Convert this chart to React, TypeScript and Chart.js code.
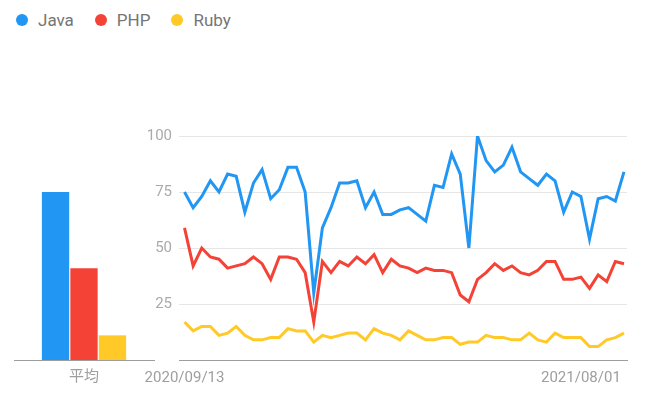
import React, { useEffect, useRef } from 'react';
import { Chart, registerables } from 'chart.js';

Chart.register(...registerables);

const seriesNames = ['Java', 'PHP', 'Ruby'];
const seriesColors = ['#2196F3', '#F44336', '#FFCA28'];

const java = [75, 68, 73, 80, 75, 83, 82, 66, 79, 85, 72, 76, 86, 86, 75, 30, 59, 68, 79, 79, 80, 68, 75, 65, 65, 67, 68, 65, 62, 78, 77, 92, 83, 50, 100, 89, 84, 87, 95, 84, 81, 78, 83, 80, 66, 75, 73, 54, 72, 73, 71, 84];
const php = [59, 42, 50, 46, 45, 41, 42, 43, 46, 43, 36, 46, 46, 45, 39, 17, 44, 39, 44, 42, 46, 43, 47, 39, 45, 42, 41, 39, 41, 40, 40, 39, 29, 26, 36, 39, 43, 40, 42, 39, 38, 40, 44, 44, 36, 36, 37, 32, 38, 35, 44, 43];
const ruby = [17, 13, 15, 15, 11, 12, 15, 11, 9, 9, 10, 10, 14, 13, 13, 8, 11, 10, 11, 12, 12, 9, 14, 12, 11, 9, 13, 11, 9, 9, 10, 10, 7, 8, 8, 11, 10, 10, 9, 9, 12, 9, 8, 12, 10, 10, 10, 6, 6, 9, 10, 12];
const seriesValues = [java, php, ruby];

const averageLabel = '平均';
const averages = [75, 41, 11];

const xTickIndices = [0, 46];
const xTickLabels = ['2020/09/13', '2021/08/01'];
const yTickValues = [0, 25, 50, 75, 100];

const FONT = 'Roboto, "Noto Sans CJK JP", sans-serif';
const AXIS_COLOR = '#9e9e9e';
const LABEL_COLOR = '#9e9e9e';
const YLABEL_COLOR = '#aaaaaa';
const GRID_COLOR = '#e6e6e6';

export default function App() {
  const barRef = useRef<HTMLCanvasElement | null>(null);
  const lineRef = useRef<HTMLCanvasElement | null>(null);

  useEffect(() => {
    const bar = new Chart(barRef.current as HTMLCanvasElement, {
      type: 'bar',
      data: {
        labels: [averageLabel],
        datasets: seriesNames.map((name, i) => ({
          label: name,
          data: [averages[i]],
          backgroundColor: seriesColors[i],
          borderWidth: 0,
          categoryPercentage: 0.61,
          barPercentage: 0.96,
        })),
      },
      options: {
        responsive: false,
        animation: false,
        layout: { padding: { left: 14, right: 11, top: 136, bottom: 6 } },
        plugins: { legend: { display: false }, tooltip: { enabled: false } },
        scales: {
          x: {
            grid: { display: false },
            border: { display: true, color: AXIS_COLOR, width: 1 },
            ticks: { color: LABEL_COLOR, font: { family: FONT, size: 15 }, padding: 0 },
            afterFit: (s: any) => { s.height = 30; },
          },
          y: { display: false, min: 0, max: 100 },
        },
      },
    });

    const line = new Chart(lineRef.current as HTMLCanvasElement, {
      type: 'line',
      data: {
        datasets: seriesNames.map((name, i) => ({
          label: name,
          data: seriesValues[i].map((v, j) => ({ x: j, y: v })),
          borderColor: seriesColors[i],
          backgroundColor: seriesColors[i],
          borderWidth: 3,
          pointRadius: 0,
          tension: 0,
          fill: false,
        })),
      },
      options: {
        responsive: false,
        animation: false,
        layout: { padding: { left: 0, right: 29, top: 136, bottom: 6 } },
        plugins: { legend: { display: false }, tooltip: { enabled: false } },
        scales: {
          x: {
            type: 'linear',
            min: -0.64,
            max: 51.35,
            grid: { display: false },
            border: { display: true, color: AXIS_COLOR, width: 1 },
            afterBuildTicks: (s: any) => { s.ticks = xTickIndices.map((v) => ({ value: v })); },
            ticks: {
              autoSkip: false,
              maxRotation: 0,
              color: LABEL_COLOR,
              font: { family: FONT, size: 15 },
              padding: 1,
              callback: (v: any) => {
                const k = xTickIndices.indexOf(Number(v));
                return k >= 0 ? xTickLabels[k] : '';
              },
            },
            afterFit: (s: any) => { s.height = 30; },
          },
          y: {
            min: 0,
            max: 100,
            afterBuildTicks: (s: any) => { s.ticks = yTickValues.map((v) => ({ value: v })); },
            grid: {
              drawTicks: false,
              color: (ctx: any) => (ctx.tick && ctx.tick.value === 0 ? 'rgba(0,0,0,0)' : GRID_COLOR),
            },
            border: { display: false },
            ticks: {
              padding: 7,
              color: YLABEL_COLOR,
              font: { family: FONT, size: 15 },
              callback: (v: any) => (Number(v) === 0 ? '' : String(v)),
            },
            afterFit: (s: any) => { s.width = 49; },
          },
        },
      },
    });

    return () => {
      bar.destroy();
      line.destroy();
    };
  }, []);

  return (
    <div style={{ position: 'fixed', left: 0, top: 0, width: 656, height: 396, background: '#ffffff', overflow: 'hidden' }}>
      <div
        style={{
          position: 'absolute',
          left: 16,
          top: 10,
          display: 'flex',
          alignItems: 'center',
          gap: 21,
          fontFamily: FONT,
          fontSize: 17,
          lineHeight: '20px',
          color: '#757575',
        }}
      >
        {seriesNames.map((name, i) => (
          <div key={name} style={{ display: 'flex', alignItems: 'center' }}>
            <span
              style={{
                display: 'inline-block',
                width: 12,
                height: 12,
                borderRadius: '50%',
                background: seriesColors[i],
                marginRight: 10,
              }}
            />
            <span>{name}</span>
          </div>
        ))}
      </div>
      <canvas ref={barRef} width={165} height={396} style={{ position: 'absolute', left: 0, top: 0, display: 'block' }} />
      <canvas ref={lineRef} width={526} height={396} style={{ position: 'absolute', left: 130, top: 0, display: 'block' }} />
    </div>
  );
}
